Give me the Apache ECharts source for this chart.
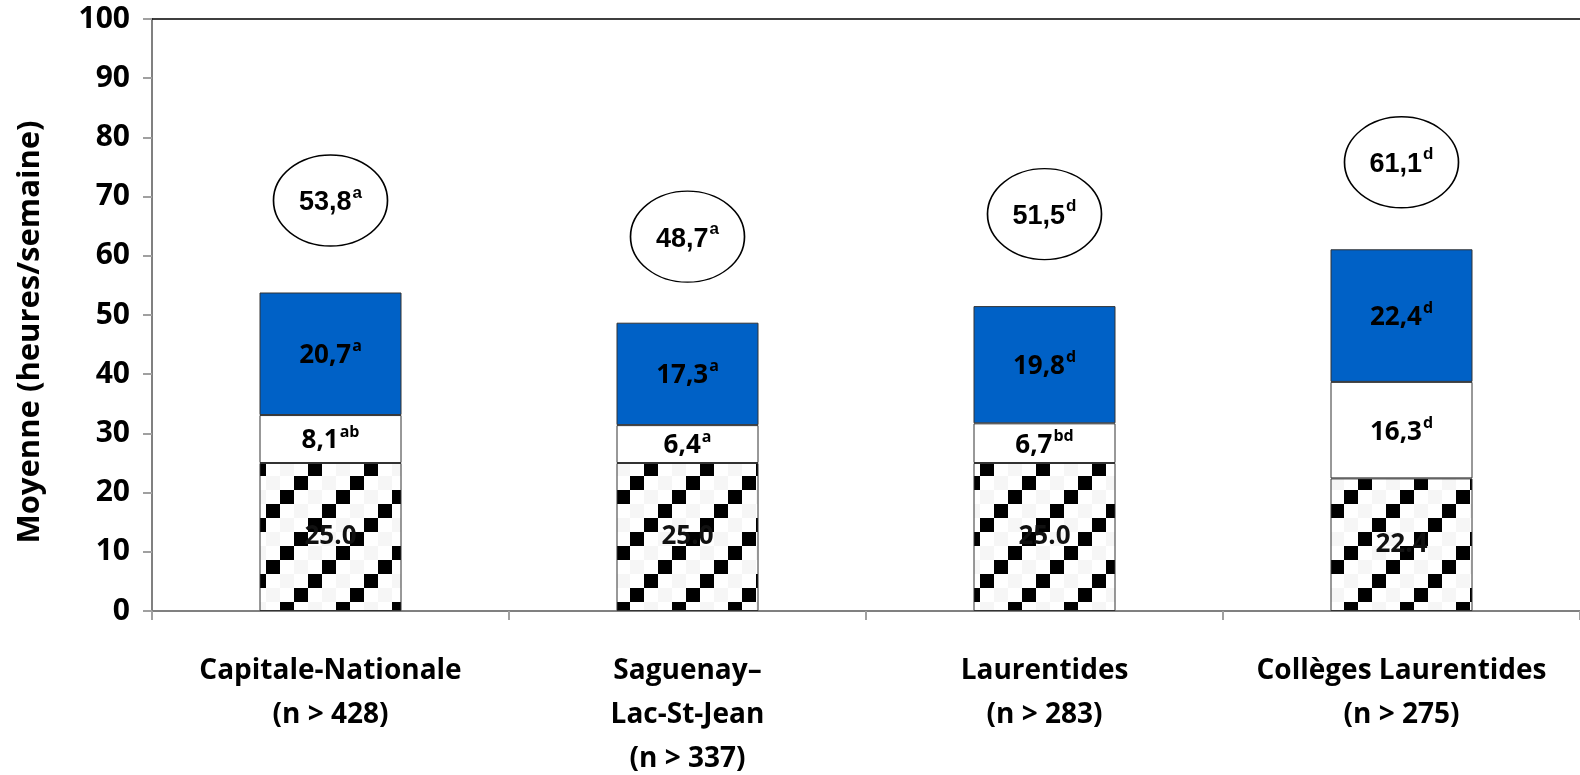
<!DOCTYPE html>
<html>
<head>
<meta charset="utf-8">
<script src="https://cdn.jsdelivr.net/npm/echarts@6/dist/echarts.min.js"></script>
<style>
html,body{margin:0;padding:0;background:#fff;overflow:hidden;}
#chart{width:1580px;height:775px;}
</style>
</head>
<body>
<div id="chart"></div>
<script>
// ---- data ----
const categories = ['Capitale-Nationale\n(n > 428)', 'Saguenay–\nLac-St-Jean\n(n > 337)', 'Laurentides\n(n > 283)', 'Collèges Laurentides\n(n > 275)'];
const baseValues = [25.0, 25.0, 25.0, 22.4];
const middleValues = [8.1, 6.4, 6.7, 16.3];
const topValues = [20.7, 17.3, 19.8, 22.4];
const totalValues = [53.8, 48.7, 51.5, 61.1];
const middleSup = ['ab', 'a', 'bd', 'd'];
const topSup = ['a', 'a', 'd', 'd'];
const totalSup = ['a', 'a', 'd', 'd'];
const yAxisTitle = 'Moyenne (heures/semaine)';

// ---- layout / style ----
const bubbleOffsets = [92, 86, 92, 87];
const FONT = '"Open Sans", Lato, sans-serif';
const NARROW = '"Liberation Sans Narrow", "Liberation Sans", Arial, sans-serif';

function makePattern() {
  const c = document.createElement('canvas');
  const cell = 14, n = 4;
  c.width = cell * n; c.height = cell * n;
  const ctx = c.getContext('2d');
  ctx.fillStyle = '#ffffff';
  ctx.fillRect(0, 0, c.width, c.height);
  for (let r = 0; r < n; r++) {
    const col = (n - 1 - r) % n;
    ctx.fillStyle = '#f6f6f6';
    ctx.fillRect(((col + 2) % n) * cell, r * cell, cell, cell);
    ctx.fillStyle = '#000000';
    ctx.fillRect(col * cell, r * cell, cell, cell);
  }
  return c;
}

function fmt(v, sep) { return v.toFixed(1).replace('.', sep); }

const chart = echarts.init(document.getElementById('chart'), null, {renderer: 'canvas'});

const supRich = {
  v: {fontFamily: FONT, fontWeight: 'bold', fontSize: 26, color: '#000', lineHeight: 30, verticalAlign: 'bottom'},
  s: {fontFamily: FONT, fontWeight: 'bold', fontSize: 16, color: '#000', lineHeight: 30, verticalAlign: 'top', padding: [0, 0, 0, 1]}
};

const option = {
  animation: false,
  backgroundColor: '#ffffff',
  grid: {left: 152, width: 1428, top: 19, height: 592, containLabel: false, outerBoundsMode: 'none'},
  xAxis: [{
    type: 'category',
    data: categories,
    axisLine: {lineStyle: {color: '#808080', width: 2}},
    axisTick: {show: true, length: 9, lineStyle: {color: '#a0a0a0', width: 2}},
    axisLabel: {
      fontFamily: FONT, fontWeight: 'bold', fontSize: 28, color: '#000',
      lineHeight: 44, margin: 38, interval: 0
    }
  }, {
    type: 'category',
    data: categories,
    position: 'top',
    axisLine: {show: true, lineStyle: {color: '#000', width: 1.5}},
    axisTick: {show: false},
    axisLabel: {show: false}
  }],
  yAxis: {
    type: 'value',
    min: 0, max: 100, interval: 10,
    name: yAxisTitle,
    nameLocation: 'middle',
    nameGap: 106,
    nameRotate: 90,
    nameTextStyle: {fontFamily: FONT, fontWeight: 'bold', fontSize: 31, color: '#000', padding: [0, 34, 0, 0]},
    axisLine: {show: true, lineStyle: {color: '#808080', width: 2}},
    axisTick: {show: true, length: 9, lineStyle: {color: '#a0a0a0', width: 2}},
    splitLine: {show: false},
    axisLabel: {fontFamily: FONT, fontWeight: 'bold', fontSize: 30, color: '#000', margin: 22}
  },
  series: [{
    type: 'bar',
    stack: 'total',
    barWidth: 142,
    data: baseValues,
    itemStyle: {color: {image: makePattern(), repeat: 'repeat'}, borderColor: '#333', borderWidth: 1},
    label: {
      show: true, position: 'inside',
      formatter: p => fmt(p.value, '.'),
      fontFamily: FONT, fontWeight: 'bold', fontSize: 26, color: '#111'
    }
  }, {
    type: 'bar',
    stack: 'total',
    data: middleValues,
    itemStyle: {color: '#ffffff', borderColor: '#333', borderWidth: 1},
    label: {
      show: true, position: 'inside',
      formatter: p => '{v|' + fmt(p.value, ',') + '}{s|' + middleSup[p.dataIndex] + '}',
      rich: supRich
    }
  }, {
    type: 'bar',
    stack: 'total',
    data: topValues,
    itemStyle: {color: '#0061C6', borderColor: '#333', borderWidth: 1},
    label: {
      show: true, position: 'inside',
      formatter: p => '{v|' + fmt(p.value, ',') + '}{s|' + topSup[p.dataIndex] + '}',
      rich: supRich
    }
  }, {
    type: 'scatter',
    data: totalValues.map((v, i) => ({value: v, symbolOffset: [0, -bubbleOffsets[i]]})),
    symbol: 'path://M0,50 A50,50 0 1,1 100,50 A50,50 0 1,1 0,50 Z',
    symbolSize: [114, 91],
    itemStyle: {color: '#ffffff', borderColor: '#000', borderWidth: 1.5, opacity: 1},
    z: 5,
    label: {
      show: true, position: 'inside',
      formatter: p => '{v|' + fmt(p.value, ',') + '}{s|' + totalSup[p.dataIndex] + '}',
      rich: {
        v: {fontFamily: NARROW, fontWeight: 'bold', fontSize: 27, color: '#000', lineHeight: 32, verticalAlign: 'bottom'},
        s: {fontFamily: NARROW, fontWeight: 'bold', fontSize: 17, color: '#000', lineHeight: 32, verticalAlign: 'top', padding: [0, 0, 0, 1]}
      }
    },
    emphasis: {disabled: true}
  }]
};
chart.setOption(option);
</script>
</body>
</html>
